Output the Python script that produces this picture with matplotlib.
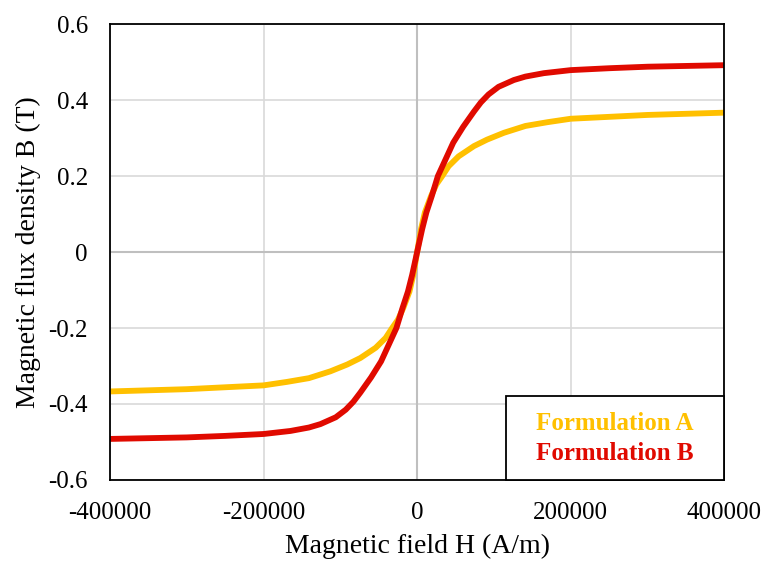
import matplotlib.pyplot as plt
import numpy as np
from matplotlib.patches import Rectangle

h_a = [0, 5000, 10000, 18000, 25000, 32600, 41000, 54000, 74000, 91000,
       113000, 141000, 170000, 200000, 250000, 300000, 350000, 400000]
b_a = [0.0, 0.060, 0.104, 0.147, 0.178, 0.200, 0.226, 0.252, 0.279, 0.296,
       0.314, 0.332, 0.342, 0.351, 0.356, 0.361, 0.364, 0.367]

h_b = [0, 6500, 12000, 19000, 27000, 37000, 47000, 60000, 74000, 83000,
       93000, 106000, 126000, 141000, 165000, 200000, 250000, 300000, 350000, 400000]
b_b = [0.0, 0.060, 0.104, 0.147, 0.200, 0.244, 0.288, 0.330, 0.370, 0.394,
       0.415, 0.435, 0.453, 0.462, 0.471, 0.479, 0.484, 0.488, 0.490, 0.492]

series = ["Formulation A", "Formulation B"]
colors = ["#FFC000", "#E00A00"]
xticks = [-400000, -200000, 0, 200000, 400000]
yticks = [-0.6, -0.4, -0.2, 0, 0.2, 0.4, 0.6]


def mirror(h, b):
    h = np.array(h, dtype=float)
    b = np.array(b, dtype=float)
    return np.concatenate([-h[:0:-1], h]), np.concatenate([-b[:0:-1], b])


plt.rcParams["font.family"] = ["Liberation Serif", "DejaVu Serif"]

fig = plt.figure(figsize=(7.64, 5.62), dpi=100)
ax = fig.add_axes([0.144, 0.146, 0.804, 0.811])

for (h, b), col, name in zip([mirror(h_a, b_a), mirror(h_b, b_b)], colors, series):
    ax.plot(h, b, color=col, lw=4.2, label=name,
            solid_joinstyle="round", solid_capstyle="butt")

ax.set_xlim(-400000, 400000)
ax.set_ylim(-0.6, 0.6)
ax.set_xticks(xticks)
ax.set_yticks(yticks)
ax.set_xticklabels([str(t) for t in xticks])
ax.set_yticklabels(["-0.6", "-0.4", "-0.2", "0", "0.2", "0.4", "0.6"])
ax.tick_params(length=0, labelsize=18)
ax.tick_params(axis="x", pad=16)
ax.tick_params(axis="y", pad=16)

ax.grid(True, color="#D9D9D9", lw=1.2)
ax.axhline(0, color="#BFBFBF", lw=1.5, zorder=1)
ax.axvline(0, color="#BFBFBF", lw=1.5, zorder=1)
ax.set_axisbelow(True)
for s in ax.spines.values():
    s.set_color("black")
    s.set_linewidth(1.3)

ax.set_xlabel("Magnetic field H (A/m)", fontsize=20, labelpad=7)
ax.set_ylabel("Magnetic flux density B (T)", fontsize=20, labelpad=5)

# legend box: text only, coloured like the lines
ax.add_patch(Rectangle((0.645, 0.0), 0.355, 0.184, transform=ax.transAxes,
                       facecolor="white", edgecolor="black", lw=1.3, zorder=5,
                       clip_on=False))
for name, col, y in zip(series, colors, [0.124, 0.059]):
    ax.text(0.821, y, name, transform=ax.transAxes, ha="center", va="center",
            color=col, fontsize=18, fontweight="bold", zorder=6)

fig.savefig("out.png", dpi=100)
